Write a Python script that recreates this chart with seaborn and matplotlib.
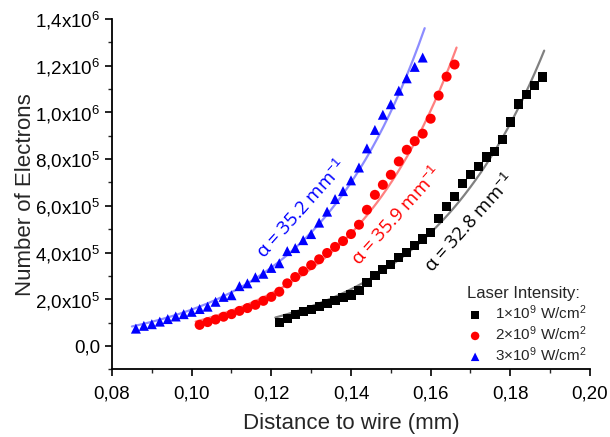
import numpy as np
import pandas as pd
import seaborn as sns
import matplotlib
matplotlib.use('Agg')
import matplotlib.pyplot as plt
from matplotlib.ticker import MultipleLocator, FuncFormatter

# data (distance in mm, electrons in units of 1e6)
x_black = np.round(np.arange(0.122, 0.1881, 0.002), 3)
n_black = [0.100, 0.119, 0.133, 0.146, 0.156, 0.168, 0.182, 0.196, 0.207, 0.218,
           0.239, 0.272, 0.301, 0.328, 0.349, 0.377, 0.401, 0.429, 0.458, 0.485,
           0.547, 0.598, 0.639, 0.696, 0.733, 0.767, 0.809, 0.832, 0.885, 0.959,
           1.036, 1.076, 1.115, 1.152]

x_red = np.round(np.arange(0.102, 0.1661, 0.002), 3)
n_red = [0.090, 0.102, 0.113, 0.125, 0.136, 0.150, 0.162, 0.176, 0.193, 0.210,
         0.232, 0.268, 0.295, 0.320, 0.346, 0.371, 0.398, 0.424, 0.449, 0.479,
         0.519, 0.583, 0.647, 0.690, 0.733, 0.790, 0.840, 0.877, 0.909, 0.973,
         1.072, 1.153, 1.205]

x_blue = np.round(np.arange(0.086, 0.1581, 0.002), 3)
n_blue = [0.074, 0.086, 0.093, 0.104, 0.115, 0.126, 0.136, 0.146, 0.158, 0.168,
          0.189, 0.210, 0.217, 0.256, 0.268, 0.294, 0.309, 0.334, 0.354, 0.406,
          0.419, 0.453, 0.479, 0.528, 0.575, 0.629, 0.663, 0.709, 0.764, 0.846,
          0.925, 0.990, 1.035, 1.093, 1.146, 1.195, 1.235]

alphas = [32.8, 35.9, 35.2]  # mm^-1, from the fit labels
labels = [r'1$\times$10$^9$ W/cm$^2$', r'2$\times$10$^9$ W/cm$^2$', r'3$\times$10$^9$ W/cm$^2$']
colors = ['black', '#ff0000', '#0000ff']
fit_colors = ['#808080', '#ff8080', '#8c8cff']
markers = ['s', 'o', '^']

sns.set_style('ticks')
plt.rcParams['font.family'] = ['Liberation Sans', 'DejaVu Sans']
plt.rcParams['mathtext.fontset'] = 'custom'
plt.rcParams['mathtext.rm'] = 'Liberation Sans'
plt.rcParams['mathtext.it'] = 'Liberation Sans:italic'

fig = plt.figure(figsize=(6.1, 4.37), dpi=100)
ax = fig.add_axes([0.1836, 0.155, 0.7836, 0.8015])

series = [(x_black, n_black), (x_red, n_red), (x_blue, n_blue)]
for (xs, ns), a, lab, c, fc, m in zip(series, alphas, labels, colors, fit_colors, markers):
    df = pd.DataFrame({'x': xs, 'n': np.array(ns) * 1e6})
    # exponential fit with fixed alpha: n = n0 + A*exp(alpha*x)
    M = np.column_stack([np.ones(len(df)), np.exp(a * df['x'])])
    coef, *_ = np.linalg.lstsq(M, df['n'], rcond=None)
    xf = np.linspace(df['x'].min() - 0.001, df['x'].max() + 0.0005, 200)
    fit = pd.DataFrame({'x': xf, 'n': coef[0] + coef[1] * np.exp(a * xf)})
    sns.lineplot(data=fit, x='x', y='n', color=fc, lw=1.6, ax=ax)
    sns.scatterplot(data=df, x='x', y='n', marker=m, color=c, s=52 if m != 's' else 44,
                    edgecolor='none', label=lab, ax=ax, zorder=3)

txt_kw = dict(fontsize=13.5, family=['Open Sans', 'DejaVu Sans'], rotation=48,
              rotation_mode='anchor', ha='center', va='center')
ax.text(0.1278, 0.587e6, 'α = 35.2 mm$^{-1}$', color='#0000ff', **txt_kw)
ax.text(0.1515, 0.558e6, 'α = 35.9 mm$^{-1}$', color='#ff0000', **txt_kw)
ax.text(0.1699, 0.528e6, 'α = 32.8 mm$^{-1}$', color='black', **txt_kw)

ax.set_xlim(0.08, 0.20)
ax.set_ylim(-0.1e6, 1.4e6)
ax.xaxis.set_major_locator(MultipleLocator(0.02))
ax.xaxis.set_minor_locator(MultipleLocator(0.01))
ax.yaxis.set_major_locator(MultipleLocator(0.2e6))
ax.yaxis.set_minor_locator(MultipleLocator(0.1e6))
ax.xaxis.set_major_formatter(FuncFormatter(lambda v, p: f'{v:.2f}'.replace('.', ',')))


def yfmt(v, p):
    if abs(v) < 1:
        return '0,0'
    e = int(np.floor(np.log10(abs(v))))
    m = v / 10 ** e
    return f'{m:.1f}'.replace('.', ',') + 'x10$^{' + str(e) + '}$'


ax.yaxis.set_major_formatter(FuncFormatter(yfmt))
ax.tick_params(which='major', direction='out', length=5, width=1.2, labelsize=13.5, colors='black')
ax.tick_params(axis='x', which='major', pad=7)
ax.tick_params(which='minor', direction='out', length=3, width=1.0)
for s in ['top', 'right']:
    ax.spines[s].set_visible(False)
for s in ['left', 'bottom']:
    ax.spines[s].set_linewidth(1.3)
    ax.spines[s].set_color('black')

ax.set_xlabel('Distance to wire (mm)', fontsize=16, labelpad=7)
ax.set_ylabel('Number of Electrons', fontsize=16, labelpad=-1)

leg = ax.legend(title='Laser Intensity:', loc='lower right', bbox_to_anchor=(1.015, -0.015),
                frameon=False, fontsize=11, title_fontsize=12, handletextpad=0.3,
                labelspacing=0.15, markerscale=0.85, borderpad=0.2)

fig.savefig('out.png', dpi=100)
